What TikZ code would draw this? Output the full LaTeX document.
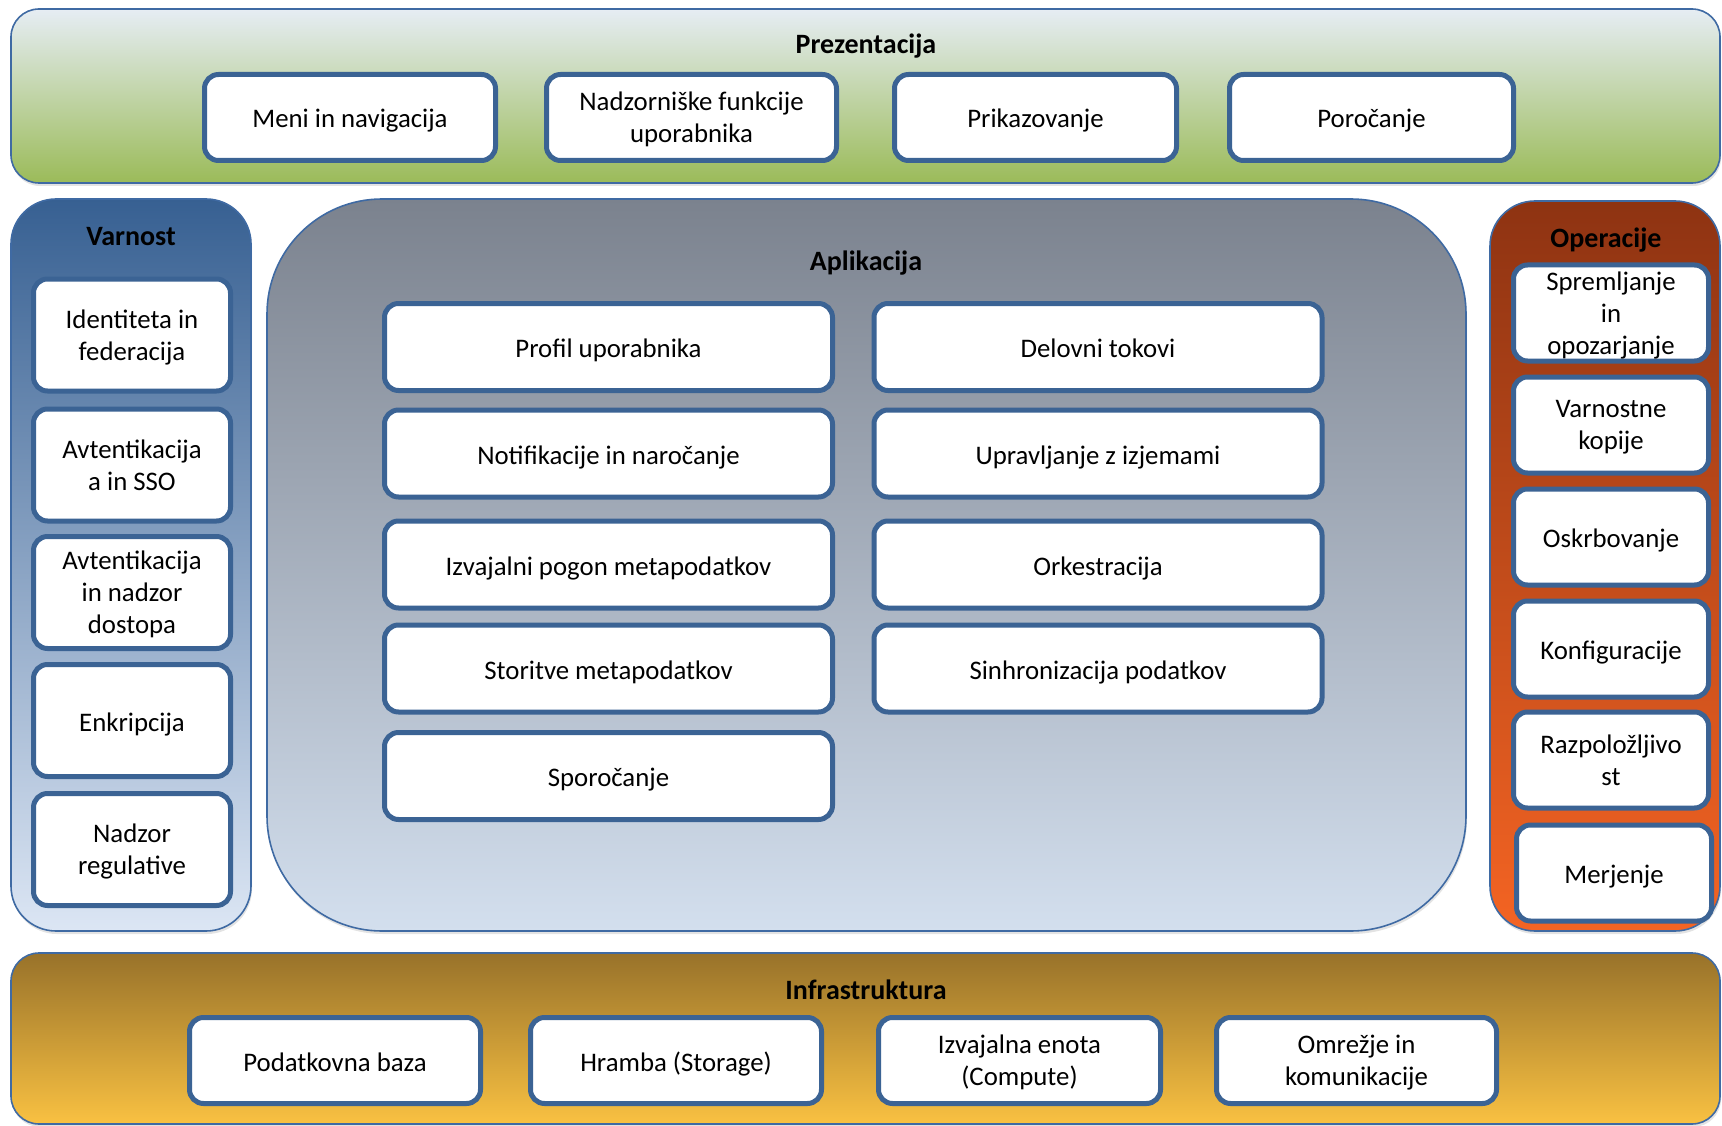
\documentclass[tikz,border=0pt]{standalone}
\usepackage{fontspec}
\setmainfont{Carlito}
\usetikzlibrary{shadows}

\definecolor{itemedge}{HTML}{3B6394}
\definecolor{layeredge}{HTML}{3F6AA3}
\definecolor{presTop}{HTML}{E6EDF4}
\definecolor{presBot}{HTML}{9BBB59}
\definecolor{secTop}{HTML}{376092}
\definecolor{secBot}{HTML}{DCE6F4}
\definecolor{appTop}{HTML}{7B828E}
\definecolor{appBot}{HTML}{D3DFEE}
\definecolor{opsTop}{HTML}{8E3312}
\definecolor{opsBot}{HTML}{F46423}
\definecolor{infTop}{HTML}{98722A}
\definecolor{infBot}{HTML}{F9C142}

% struts that fix the vertical extent of box texts
\newcommand\topline{\rule{0pt}{26pt}}
\newcommand\botline{\rule[-5pt]{0pt}{5pt}}

\begin{document}
\begin{tikzpicture}[x=1pt,y=-1pt,
  layer/.style={draw=layeredge, line width=1.6pt, inner sep=0pt,
    drop shadow={opacity=0.22, shadow xshift=1pt, shadow yshift=-3pt}},
  item/.style={draw=itemedge, line width=5pt, fill=white, rounded corners=14pt,
    inner sep=0pt, align=center, font=\fontsize{26.8}{32}\selectfont,
    execute at begin node=\topline, execute at end node=\botline},
  multi/.style={text depth=-0.5pt},
  pbox/.style={item, minimum width=287pt, minimum height=86pt},
  abox/.style={item, minimum width=448pt, minimum height=87pt},
  sbox/.style={item, minimum width=197pt, minimum height=112pt},
  obox/.style={item, minimum width=195pt, minimum height=96pt},
  title/.style={font=\bfseries\fontsize{28}{32}\selectfont}]
\useasboundingbox (0,0) rectangle (1722,1126);

% layer containers
\node[layer, rounded corners=28pt, minimum width=1709pt, minimum height=174pt,
  top color=presTop, bottom color=presBot] (pres) at (865.5,96) {};
\node[layer, rounded corners=45pt, minimum width=240pt, minimum height=732pt,
  top color=secTop, bottom color=secBot] (sec) at (131,565) {};
\node[layer, rounded corners=115pt, minimum width=1199pt, minimum height=732pt,
  top color=appTop, bottom color=appBot] (app) at (866.5,565) {};
\node[layer, rounded corners=45pt, minimum width=230pt, minimum height=730pt,
  top color=opsTop, bottom color=opsBot] (ops) at (1605,566) {};
\node[layer, rounded corners=28pt, minimum width=1709pt, minimum height=171pt,
  top color=infTop, bottom color=infBot] (inf) at (865.5,1038.5) {};

% titles
\node[title] (presT) at (866,46) {Prezentacija};
\node[title] (secT) at (131,237) {Varnost};
\node[title] (appT) at (866,263) {Aplikacija};
\node[title] (opsT) at (1606,240) {Operacije};
\node[title] (infT) at (866,990) {Infrastruktura};

% presentation
\node[pbox, minimum width=291pt] (p1) at (350,117.5) {Meni in navigacija};
\node[pbox, multi, minimum width=290pt] (p2) at (691.5,117.5) {Nadzorniške funkcije\\uporabnika};
\node[pbox, minimum width=282pt] (p3) at (1035.5,117.5) {Prikazovanje};
\node[pbox, minimum width=284pt] (p4) at (1371.5,117.5) {Poročanje};

% security
\node[sbox, multi] (s1) at (132,335) {Identiteta in\\federacija};
\node[sbox, multi] (s2) at (132,465) {Avtentikacija\\a in SSO};
\node[sbox, multi] (s3) at (132,592.5) {Avtentikacija\\in nadzor\\dostopa};
\node[sbox] (s4) at (132,720.5) {Enkripcija};
\node[sbox, multi] (s5) at (132,849.5) {Nadzor\\regulative};

% application
\node[abox] (a1) at (608.5,347) {Profil uporabnika};
\node[abox] (a2) at (608.5,453.5) {Notifikacije in naročanje};
\node[abox] (a3) at (608.5,564.5) {Izvajalni pogon metapodatkov};
\node[abox] (a4) at (608.5,668.5) {Storitve metapodatkov};
\node[abox] (a5) at (608.5,776) {Sporočanje};
\node[abox] (b1) at (1098,347) {Delovni tokovi};
\node[abox] (b2) at (1098,453.5) {Upravljanje z izjemami};
\node[abox] (b3) at (1098,564.5) {Orkestracija};
\node[abox] (b4) at (1098,668.5) {Sinhronizacija podatkov};

% operations
\node[obox, multi] (o1) at (1611,313) {Spremljanje\\in\\opozarjanje};
\node[obox, multi] (o2) at (1611,425) {Varnostne\\kopije};
\node[obox] (o3) at (1611,537) {Oskrbovanje};
\node[obox] (o4) at (1611,649) {Konfiguracije};
\node[obox, multi] (o5) at (1611,760) {Razpoložljivo\\st};
\node[obox] (o6) at (1614,873) {Merjenje};

% infrastructure
\node[pbox, minimum width=291pt] (i1) at (335,1060.5) {Podatkovna baza};
\node[pbox, minimum width=291pt] (i2) at (676,1060.5) {Hramba (Storage)};
\node[pbox, multi, minimum width=282pt] (i3) at (1019.5,1060.5) {Izvajalna enota\\(Compute)};
\node[pbox, multi, minimum width=280pt] (i4) at (1356.5,1060.5) {Omrežje in\\komunikacije};
\end{tikzpicture}
\end{document}
